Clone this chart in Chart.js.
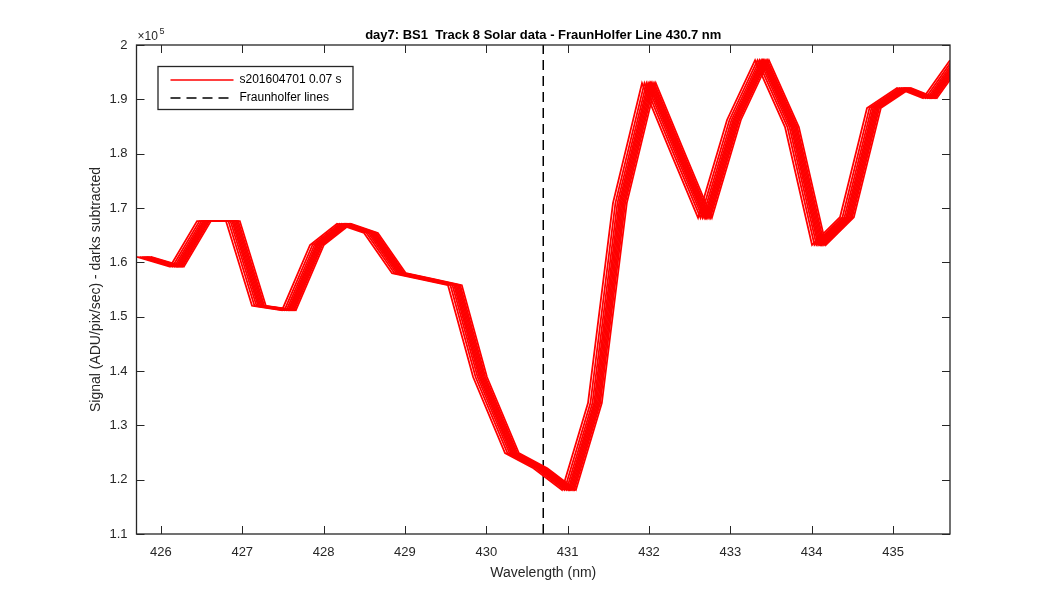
<!DOCTYPE html>
<html>
<head>
<meta charset="utf-8">
<script src="https://cdn.jsdelivr.net/npm/chart.js@4/dist/chart.umd.min.js"></script>
<style>
  html, body { margin: 0; padding: 0; background: #fff; }
  #wrap { width: 1050px; height: 600px; }
</style>
</head>
<body>
<div id="wrap"><canvas id="chart" width="1050" height="600"></canvas></div>
<script>
// wavelength (nm) of the first frame
const wavelength = [425.707, 426.112, 426.444, 426.800, 427.120, 427.489, 427.833, 428.165,
  428.497, 428.841, 429.185, 429.529, 429.838, 430.230, 430.580, 430.931, 431.250, 431.557,
  431.914, 432.258, 432.603, 432.959, 433.304, 433.672, 434.004, 434.348, 434.680, 435.049,
  435.368, 435.700];
// signal (ADU/pix/sec), darks subtracted
const signal = [161000, 159200, 167600, 167600, 152000, 151200, 163200, 167100,
  165400, 158000, 156900, 155800, 138900, 124900, 122100, 118100, 134100, 170900,
  193000, 180500, 168200, 186200, 197200, 184900, 163200, 168300, 188400, 192100,
  190200, 197200];
// per-frame wavelength drift (nm) of the overlaid exposures
const frameShift = [0, 0.03, 0.055, 0.075, 0.09, 0.105, 0.12, 0.135, 0.15, 0.17];
const fraunhoferLine = 430.7;
const xTicks = [426, 427, 428, 429, 430, 431, 432, 433, 434, 435];
const yTicks = [110000, 120000, 130000, 140000, 150000, 160000, 170000, 180000, 190000, 200000];
const seriesLabel = 's201604701 0.07 s';
const lineLabel = 'Fraunholfer lines';

const ink = '#262626';
const font = 'Helvetica, "Liberation Sans", Arial, sans-serif';

const datasets = frameShift.map(s => ({
  data: wavelength.map((w, i) => ({ x: w + s, y: signal[i] })),
  borderColor: '#ff0000',
  borderWidth: 1.8,
  pointRadius: 0,
  tension: 0,
}));
datasets.push({
  data: [{ x: fraunhoferLine, y: yTicks[0] }, { x: fraunhoferLine, y: yTicks[yTicks.length - 1] }],
  borderColor: '#000',
  borderWidth: 1.5,
  borderDash: [10, 6],
  pointRadius: 0,
});

// matlab style box: inward ticks on all sides, exponent, legend
const frame = {
  id: 'frame',
  afterDatasetsDraw(chart) {
    const { ctx, chartArea: a, scales: { x, y } } = chart;
    const len = 8;
    ctx.save();
    ctx.strokeStyle = ink;
    ctx.lineWidth = 1.3;
    ctx.strokeRect(a.left, a.top, a.right - a.left, a.bottom - a.top);
    ctx.lineWidth = 1;
    ctx.beginPath();
    x.ticks.forEach(t => {
      const px = Math.round(x.getPixelForValue(t.value)) + 0.5;
      ctx.moveTo(px, a.bottom); ctx.lineTo(px, a.bottom - len);
      ctx.moveTo(px, a.top); ctx.lineTo(px, a.top + len);
    });
    y.ticks.forEach(t => {
      const py = Math.round(y.getPixelForValue(t.value)) + 0.5;
      ctx.moveTo(a.left, py); ctx.lineTo(a.left + len, py);
      ctx.moveTo(a.right, py); ctx.lineTo(a.right - len, py);
    });
    ctx.stroke();

    // x10^5
    ctx.fillStyle = ink;
    ctx.textBaseline = 'alphabetic';
    ctx.font = '12px ' + font;
    ctx.fillText('\u00d710', a.left + 1, a.top - 5);
    ctx.font = '9px ' + font;
    ctx.fillText('5', a.left + 23, a.top - 11);

    // legend
    const lx = a.left + 21, ly = a.top + 21;
    ctx.fillStyle = '#fff';
    ctx.fillRect(lx, ly, 196, 44);
    ctx.strokeStyle = ink;
    ctx.lineWidth = 1.3;
    ctx.strokeRect(lx + 0.5, ly + 0.5, 195, 43);
    ctx.strokeStyle = '#ff0000';
    ctx.beginPath(); ctx.moveTo(lx + 13, ly + 14); ctx.lineTo(lx + 76, ly + 14); ctx.stroke();
    ctx.strokeStyle = '#000';
    ctx.lineWidth = 1.5;
    ctx.setLineDash([10, 6]);
    ctx.beginPath(); ctx.moveTo(lx + 13, ly + 32); ctx.lineTo(lx + 76, ly + 32); ctx.stroke();
    ctx.setLineDash([]);
    ctx.fillStyle = '#000';
    ctx.font = '12px ' + font;
    ctx.textBaseline = 'middle';
    ctx.fillText(seriesLabel, lx + 82, ly + 14);
    ctx.fillText(lineLabel, lx + 82, ly + 32);
    ctx.restore();
  }
};

new Chart(document.getElementById('chart'), {
  type: 'line',
  data: { datasets },
  plugins: [frame],
  options: {
    responsive: false,
    animation: false,
    events: [],
    layout: { padding: { left: 0, right: 100, top: 0, bottom: 0 } },
    plugins: {
      legend: { display: false },
      tooltip: { enabled: false },
      title: {
        display: true,
        fullSize: false,
        text: 'day7: BS1  Track 8 Solar data - FraunHolfer Line 430.7 nm',
        color: '#000',
        font: { family: font, size: 13, weight: 'bold' },
        padding: { top: 28, bottom: 1.4 },
      },
    },
    scales: {
      x: {
        type: 'linear',
        min: 425.7,
        max: 435.7,
        afterFit: s => { s.height = 66; },
        afterBuildTicks: s => { s.ticks = xTicks.map(v => ({ value: v })); },
        grid: { display: false, drawTicks: false, tickLength: 0 },
        border: { display: false },
        ticks: {
          maxRotation: 0,
          autoSkip: false,
          color: ink,
          padding: 11,
          font: { family: font, size: 13 },
        },
        title: {
          display: true,
          text: 'Wavelength (nm)',
          color: ink,
          font: { family: font, size: 14 },
          padding: { top: 0, bottom: 18 },
        },
      },
      y: {
        min: yTicks[0],
        max: yTicks[yTicks.length - 1],
        afterFit: s => { s.width = 136.5; },
        afterBuildTicks: s => { s.ticks = yTicks.map(v => ({ value: v })); },
        grid: { display: false, drawTicks: false, tickLength: 0 },
        border: { display: false },
        ticks: {
          autoSkip: false,
          color: ink,
          padding: 9,
          font: { family: font, size: 13 },
          callback: v => String(+(v / 1e5).toFixed(1)),
        },
        title: {
          display: true,
          text: 'Signal (ADU/pix/sec) - darks subtracted',
          color: ink,
          font: { family: font, size: 14 },
          padding: { top: 88, bottom: 0 },
        },
      },
    },
  },
});
</script>
</body>
</html>
